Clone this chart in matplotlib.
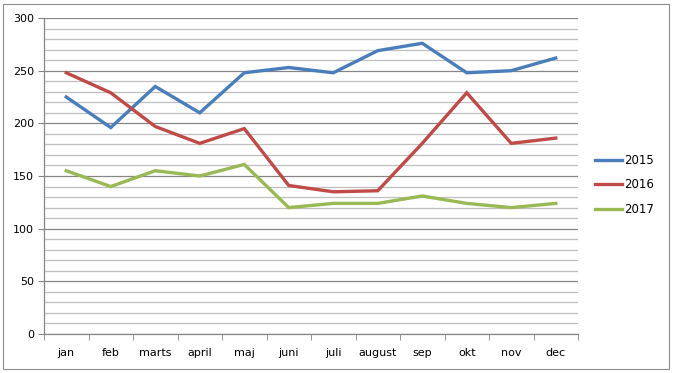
import numpy as np
import matplotlib
matplotlib.use("Agg")
import matplotlib.pyplot as plt
from matplotlib.patches import Rectangle
from matplotlib.ticker import MultipleLocator, FixedLocator

months = ["jan", "feb", "marts", "april", "maj", "juni", "juli", "august", "sep", "okt", "nov", "dec"]
series_names = ["2015", "2016", "2017"]
vals_2015 = [225, 196, 235, 210, 248, 253, 248, 269, 276, 248, 250, 262]
vals_2016 = [248, 229, 197, 181, 195, 141, 135, 136, 181, 229, 181, 186]
vals_2017 = [155, 140, 155, 150, 161, 120, 124, 124, 131, 124, 120, 124]
colors = ["#4A7EBB", "#BE4B48", "#98B954"]

W, H = 673, 373
fig = plt.figure(figsize=(W / 100, H / 100), dpi=100)
fig.patches.append(Rectangle((3 / W, 4 / H), 666 / W, 365 / H, transform=fig.transFigure,
                             fill=False, edgecolor="#8C8C8C", linewidth=0.8))

ax = fig.add_axes([44 / W, (H - 334) / H, 534 / W, 316 / H])
x = np.arange(len(months))
for name, vals, c in zip(series_names, [vals_2015, vals_2016, vals_2017], colors):
    ax.plot(x, vals, color=c, linewidth=2.4, label=name, solid_joinstyle="miter")

ax.set_xlim(-0.5, len(months) - 0.5)
ax.set_ylim(0, 300)
ax.yaxis.set_major_locator(MultipleLocator(50))
ax.yaxis.set_minor_locator(MultipleLocator(10))
ax.grid(which="minor", axis="y", color="#BFBFBF", linewidth=0.9)
ax.grid(which="major", axis="y", color="#868686", linewidth=0.9)
ax.set_axisbelow(True)

ax.set_xticks(x)
ax.set_xticklabels(months)
ax.xaxis.set_minor_locator(FixedLocator(np.arange(-0.5, len(months), 1.0)))
ax.tick_params(axis="x", which="major", length=0, pad=10, labelsize=8, colors="black")
ax.tick_params(axis="x", which="minor", length=4, color="#868686", direction="out")
ax.tick_params(axis="y", which="major", length=4, color="#868686", labelsize=8, pad=3)
ax.tick_params(axis="y", which="minor", length=0)

for s in ["top", "right"]:
    ax.spines[s].set_visible(False)
for s in ["left", "bottom"]:
    ax.spines[s].set_color("#868686")
    ax.spines[s].set_linewidth(0.9)

ax.legend(loc="center left", bbox_to_anchor=(595 / W, (H - 185) / H), bbox_transform=fig.transFigure,
          frameon=False, fontsize=8.5, handlelength=2.3, handletextpad=0.2, labelspacing=1.0,
          borderaxespad=0, borderpad=0)

fig.savefig("out.png", dpi=100)
